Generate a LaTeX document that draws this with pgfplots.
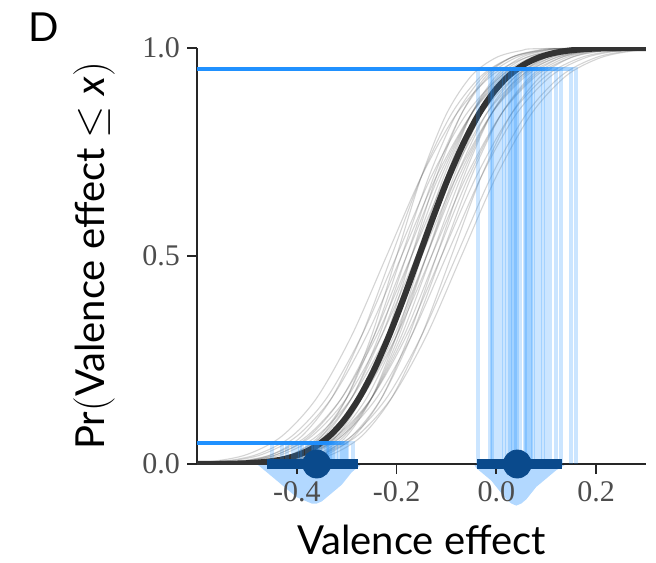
\documentclass[border=0pt]{standalone}
\usepackage{fontspec}
\setmainfont{Lato}
\newfontfamily\tickfont{Liberation Serif}
\usepackage{pgfplots}
\pgfplotsset{compat=1.18}
\usepackage{pgfplotstable}

\definecolor{qblue}{RGB}{30,144,255}
\definecolor{dens}{RGB}{178,216,255}
\definecolor{navy}{RGB}{10,74,140}
\definecolor{curve}{RGB}{51,51,51}
\definecolor{tickgray}{RGB}{77,77,77}

% posterior draws of the CDF: one x column per draw, shared probabilities p
\pgfplotstableread{
p      d1    d2     d3     d4    d5    d6    d7     d8    d9    d10    d11    d12   d13   d14    d15    d16   d17   d18   d19    d20   d21   d22   d23   d24   d25   d26   d27   d28   d29   d30
0      -0.70 -0.70  -0.70  -0.70 -0.70 -0.70 -0.70  -0.70 -0.70 -0.70  -0.70  -0.70 -0.70 -0.70  -0.70  -0.70 -0.70 -0.70 -0.70  -0.70 -0.70 -0.70 -0.70 -0.70 -0.70 -0.70 -0.70 -0.70 -0.70 -0.70
0.0013 -0.50 -0.52  -0.57  -0.47 -0.53 -0.58 -0.49  -0.51 -0.45 -0.53  -0.47  -0.49 -0.55 -0.45  -0.51  -0.47 -0.52 -0.45 -0.51  -0.52 -0.50 -0.61 -0.59 -0.53 -0.50 -0.57 -0.62 -0.57 -0.49 -0.64
0.0062 -0.45 -0.465 -0.505 -0.42 -0.47 -0.51 -0.435 -0.45 -0.40 -0.465 -0.415 -0.43 -0.48 -0.395 -0.445 -0.41 -0.45 -0.39 -0.455 -0.46 -0.44 -0.54 -0.52 -0.46 -0.43 -0.51 -0.55 -0.50 -0.42 -0.57
0.0228 -0.40 -0.41  -0.44  -0.37 -0.41 -0.44 -0.38  -0.39 -0.35 -0.40  -0.36  -0.37 -0.41 -0.34  -0.38  -0.35 -0.38 -0.33 -0.40  -0.40 -0.38 -0.47 -0.45 -0.39 -0.36 -0.45 -0.48 -0.43 -0.35 -0.50
0.0668 -0.35 -0.355 -0.375 -0.32 -0.35 -0.37 -0.325 -0.33 -0.30 -0.335 -0.305 -0.31 -0.34 -0.285 -0.315 -0.29 -0.31 -0.27 -0.345 -0.34 -0.32 -0.40 -0.38 -0.32 -0.29 -0.39 -0.41 -0.36 -0.28 -0.43
0.1587 -0.30 -0.30  -0.31  -0.27 -0.29 -0.30 -0.27  -0.27 -0.25 -0.27  -0.25  -0.25 -0.27 -0.23  -0.25  -0.23 -0.24 -0.21 -0.29  -0.28 -0.26 -0.33 -0.31 -0.25 -0.22 -0.33 -0.34 -0.29 -0.21 -0.36
0.3085 -0.25 -0.245 -0.245 -0.22 -0.23 -0.23 -0.215 -0.21 -0.20 -0.205 -0.195 -0.19 -0.20 -0.175 -0.185 -0.17 -0.17 -0.15 -0.235 -0.22 -0.20 -0.26 -0.24 -0.18 -0.15 -0.27 -0.27 -0.22 -0.14 -0.29
0.5    -0.20 -0.19  -0.18  -0.17 -0.17 -0.16 -0.16  -0.15 -0.15 -0.14  -0.14  -0.13 -0.13 -0.12  -0.12  -0.11 -0.10 -0.09 -0.18  -0.16 -0.14 -0.19 -0.17 -0.11 -0.08 -0.21 -0.20 -0.15 -0.07 -0.22
0.6915 -0.15 -0.135 -0.115 -0.12 -0.11 -0.09 -0.105 -0.09 -0.10 -0.075 -0.085 -0.07 -0.06 -0.065 -0.055 -0.05 -0.03 -0.03 -0.125 -0.10 -0.08 -0.12 -0.10 -0.04 -0.01 -0.15 -0.13 -0.08 0.00  -0.15
0.8413 -0.10 -0.08  -0.05  -0.07 -0.05 -0.02 -0.05  -0.03 -0.05 -0.01  -0.03  -0.01 0.01  -0.01  0.01   0.01  0.04  0.03  -0.07  -0.04 -0.02 -0.05 -0.03 0.03  0.06  -0.09 -0.06 -0.01 0.07  -0.08
0.9332 -0.05 -0.025 0.015  -0.02 0.01  0.05  0.005  0.03  0.00  0.055  0.025  0.05  0.08  0.045  0.075  0.07  0.11  0.09  -0.015 0.02  0.04  0.02  0.04  0.10  0.13  -0.03 0.01  0.06  0.14  -0.01
0.9772 0.00  0.03   0.08   0.03  0.07  0.12  0.06   0.09  0.05  0.12   0.08   0.11  0.15  0.10   0.14   0.13  0.18  0.15  0.04   0.08  0.10  0.09  0.11  0.17  0.20  0.03  0.08  0.13  0.21  0.06
0.9938 0.05  0.085  0.145  0.08  0.13  0.19  0.115  0.15  0.10  0.185  0.135  0.17  0.22  0.155  0.205  0.19  0.25  0.21  0.095  0.14  0.16  0.16  0.18  0.24  0.27  0.09  0.15  0.20  0.28  0.13
0.9987 0.10  0.14   0.21   0.13  0.19  0.26  0.17   0.21  0.15  0.25   0.19   0.23  0.29  0.21   0.27   0.25  0.32  0.27  0.15   0.20  0.22  0.23  0.25  0.31  0.34  0.15  0.22  0.27  0.35  0.20
1      0.45  0.45   0.45   0.45  0.45  0.45  0.45   0.45  0.45  0.45   0.45   0.45  0.45  0.45   0.45   0.45  0.45  0.45  0.45   0.45  0.45  0.45  0.45  0.45  0.45  0.45  0.45  0.45  0.45  0.45
}\draws

\pgfplotsset{
  frame/.style={scale only axis, width=224.5pt, height=208pt,
    xmin=-0.6, xmax=0.3, ymin=0, ymax=1, at={(0,0)}, anchor=south west},
  qline/.style={qblue, opacity=0.23, line width=2pt},
}

\begin{document}
\begin{tikzpicture}

% densities of the quantiles, hanging below the axis
\begin{axis}[frame, hide axis, clip=false]
\addplot[fill=dens, draw=none] coordinates {
  (-0.48,0) (-0.47,-0.01) (-0.46,-0.02) (-0.45,-0.03) (-0.44,-0.04) (-0.43,-0.05)
  (-0.42,-0.06) (-0.41,-0.07) (-0.40,-0.08) (-0.39,-0.085) (-0.38,-0.09) (-0.37,-0.095)
  (-0.36,-0.095) (-0.35,-0.09) (-0.34,-0.08) (-0.33,-0.07) (-0.32,-0.06) (-0.31,-0.05)
  (-0.30,-0.035) (-0.29,-0.02) (-0.28,-0.01) (-0.27,0)};
\addplot[fill=dens, draw=none] coordinates {
  (-0.045,0) (-0.04,-0.01) (-0.03,-0.02) (-0.02,-0.03) (-0.01,-0.04) (0.00,-0.055)
  (0.01,-0.07) (0.02,-0.085) (0.03,-0.095) (0.04,-0.1) (0.05,-0.095) (0.06,-0.085)
  (0.07,-0.07) (0.08,-0.055) (0.09,-0.045) (0.10,-0.035) (0.11,-0.025) (0.12,-0.015)
  (0.13,-0.008) (0.14,0)};
\end{axis}

\begin{axis}[frame,
  axis lines*=left,
  tick align=outside, major tick length=5pt,
  axis line style={line width=0.9pt, black!85},
  tick style={line width=0.9pt, black!85},
  xtick={-0.4,-0.2,0,0.2}, ytick={0,0.5,1},
  /pgf/number format/assume math mode=true,
  /pgf/number format/fixed, /pgf/number format/fixed zerofill,
  /pgf/number format/precision=1,
  ticklabel style={font=\tickfont\fontsize{15}{15}\selectfont, text=tickgray},
  label style={font=\fontsize{20}{23}\selectfont},
  xlabel={Valence effect}, xlabel shift=5pt,
  ylabel={Pr$\Bigl($Valence effect $\leq$ \textit{x}$\Bigr)$}, ylabel shift=7pt,
]
\coordinate (bl) at (rel axis cs:0,0);

\pgfplotsinvokeforeach{1,...,30}{
  \addplot[black!70, opacity=0.24, line width=0.55pt, smooth] table[x=d#1, y=p] {\draws};
}

\addplot[curve, line width=3pt, smooth] coordinates {
  (-0.6,0) (-0.515,0.0013) (-0.485,0.0030) (-0.455,0.0062) (-0.425,0.0122)
  (-0.395,0.0228) (-0.365,0.0401) (-0.335,0.0668) (-0.305,0.1056) (-0.275,0.1587)
  (-0.245,0.2266) (-0.215,0.3085) (-0.185,0.4013) (-0.155,0.5) (-0.125,0.5987)
  (-0.095,0.6915) (-0.065,0.7734) (-0.035,0.8413) (-0.005,0.8944) (0.025,0.9332)
  (0.055,0.9599) (0.085,0.9772) (0.115,0.9878) (0.145,0.9938) (0.175,0.9970)
  (0.205,0.9987) (0.3,1)};

% 95% quantiles of each draw
\addplot[qline] coordinates {(-0.6,0.95) (-0.036,0.95) (-0.036,0)};
\addplot[qline] coordinates {(-0.6,0.95) (-0.009,0.95) (-0.009,0)};
\addplot[qline] coordinates {(-0.6,0.95) (0.034,0.95) (0.034,0)};
\addplot[qline] coordinates {(-0.6,0.95) (-0.006,0.95) (-0.006,0)};
\addplot[qline] coordinates {(-0.6,0.95) (0.027,0.95) (0.027,0)};
\addplot[qline] coordinates {(-0.6,0.95) (0.070,0.95) (0.070,0)};
\addplot[qline] coordinates {(-0.6,0.95) (0.021,0.95) (0.021,0)};
\addplot[qline] coordinates {(-0.6,0.95) (0.047,0.95) (0.047,0)};
\addplot[qline] coordinates {(-0.6,0.95) (0.015,0.95) (0.015,0)};
\addplot[qline] coordinates {(-0.6,0.95) (0.074,0.95) (0.074,0)};
\addplot[qline] coordinates {(-0.6,0.95) (0.041,0.95) (0.041,0)};
\addplot[qline] coordinates {(-0.6,0.95) (0.067,0.95) (0.067,0)};
\addplot[qline] coordinates {(-0.6,0.95) (0.100,0.95) (0.100,0)};
\addplot[qline] coordinates {(-0.6,0.95) (0.061,0.95) (0.061,0)};
\addplot[qline] coordinates {(-0.6,0.95) (0.094,0.95) (0.094,0)};
\addplot[qline] coordinates {(-0.6,0.95) (0.087,0.95) (0.087,0)};
\addplot[qline] coordinates {(-0.6,0.95) (0.130,0.95) (0.130,0)};
\addplot[qline] coordinates {(-0.6,0.95) (0.107,0.95) (0.107,0)};
\addplot[qline] coordinates {(-0.6,0.95) (0.001,0.95) (0.001,0)};
\addplot[qline] coordinates {(-0.6,0.95) (0.037,0.95) (0.037,0)};
\addplot[qline] coordinates {(-0.6,0.95) (0.057,0.95) (0.057,0)};
\addplot[qline] coordinates {(-0.6,0.95) (0.040,0.95) (0.040,0)};
\addplot[qline] coordinates {(-0.6,0.95) (0.060,0.95) (0.060,0)};
\addplot[qline] coordinates {(-0.6,0.95) (0.120,0.95) (0.120,0)};
\addplot[qline] coordinates {(-0.6,0.95) (0.150,0.95) (0.150,0)};
\addplot[qline] coordinates {(-0.6,0.95) (-0.013,0.95) (-0.013,0)};
\addplot[qline] coordinates {(-0.6,0.95) (0.030,0.95) (0.030,0)};
\addplot[qline] coordinates {(-0.6,0.95) (0.080,0.95) (0.080,0)};
\addplot[qline] coordinates {(-0.6,0.95) (0.160,0.95) (0.160,0)};
\addplot[qline] coordinates {(-0.6,0.95) (0.010,0.95) (0.010,0)};

% 5% quantiles of each draw
\addplot[qline] coordinates {(-0.6,0.05) (-0.3645,0.05) (-0.3645,0)};
\addplot[qline] coordinates {(-0.6,0.05) (-0.371,0.05) (-0.371,0)};
\addplot[qline] coordinates {(-0.6,0.05) (-0.394,0.05) (-0.394,0)};
\addplot[qline] coordinates {(-0.6,0.05) (-0.3345,0.05) (-0.3345,0)};
\addplot[qline] coordinates {(-0.6,0.05) (-0.367,0.05) (-0.367,0)};
\addplot[qline] coordinates {(-0.6,0.05) (-0.390,0.05) (-0.390,0)};
\addplot[qline] coordinates {(-0.6,0.05) (-0.341,0.05) (-0.341,0)};
\addplot[qline] coordinates {(-0.6,0.05) (-0.347,0.05) (-0.347,0)};
\addplot[qline] coordinates {(-0.6,0.05) (-0.3145,0.05) (-0.3145,0)};
\addplot[qline] coordinates {(-0.6,0.05) (-0.354,0.05) (-0.354,0)};
\addplot[qline] coordinates {(-0.6,0.05) (-0.321,0.05) (-0.321,0)};
\addplot[qline] coordinates {(-0.6,0.05) (-0.327,0.05) (-0.327,0)};
\addplot[qline] coordinates {(-0.6,0.05) (-0.360,0.05) (-0.360,0)};
\addplot[qline] coordinates {(-0.6,0.05) (-0.301,0.05) (-0.301,0)};
\addplot[qline] coordinates {(-0.6,0.05) (-0.334,0.05) (-0.334,0)};
\addplot[qline] coordinates {(-0.6,0.05) (-0.307,0.05) (-0.307,0)};
\addplot[qline] coordinates {(-0.6,0.05) (-0.330,0.05) (-0.330,0)};
\addplot[qline] coordinates {(-0.6,0.05) (-0.287,0.05) (-0.287,0)};
\addplot[qline] coordinates {(-0.6,0.05) (-0.361,0.05) (-0.361,0)};
\addplot[qline] coordinates {(-0.6,0.05) (-0.357,0.05) (-0.357,0)};
\addplot[qline] coordinates {(-0.6,0.05) (-0.337,0.05) (-0.337,0)};
\addplot[qline] coordinates {(-0.6,0.05) (-0.420,0.05) (-0.420,0)};
\addplot[qline] coordinates {(-0.6,0.05) (-0.400,0.05) (-0.400,0)};
\addplot[qline] coordinates {(-0.6,0.05) (-0.340,0.05) (-0.340,0)};
\addplot[qline] coordinates {(-0.6,0.05) (-0.310,0.05) (-0.310,0)};
\addplot[qline] coordinates {(-0.6,0.05) (-0.407,0.05) (-0.407,0)};
\addplot[qline] coordinates {(-0.6,0.05) (-0.430,0.05) (-0.430,0)};
\addplot[qline] coordinates {(-0.6,0.05) (-0.380,0.05) (-0.380,0)};
\addplot[qline] coordinates {(-0.6,0.05) (-0.300,0.05) (-0.300,0)};
\addplot[qline] coordinates {(-0.6,0.05) (-0.450,0.05) (-0.450,0)};
\end{axis}

% medians and intervals of the quantiles
\begin{axis}[frame, hide axis, clip=false]
\addplot[navy, line width=4.8pt] coordinates {(-0.46,0) (-0.278,0)};
\addplot[navy, line width=4.8pt] coordinates {(-0.038,0) (0.132,0)};
\addplot[only marks, mark=*, mark size=7pt, navy] coordinates {(-0.36,0) (0.042,0)};
\end{axis}

\node[font=\fontsize{20}{20}\selectfont] at ([shift={(-76.5pt,218.5pt)}]bl) {D};
\pgfresetboundingbox
\useasboundingbox ([shift={(-98.5pt,-49pt)}]bl) rectangle ([shift={(229.5pt,232pt)}]bl);
\end{tikzpicture}
\end{document}
